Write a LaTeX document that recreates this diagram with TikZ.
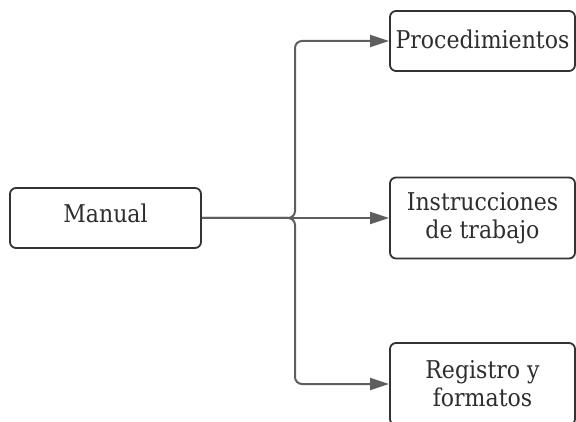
\documentclass[tikz,border=0pt]{standalone}
\usepackage{fontspec}
\setmainfont{DejaVu Serif}[FakeStretch=0.9]
\usetikzlibrary{arrows.meta}
\definecolor{linegray}{HTML}{5E5E5E}
\definecolor{boxline}{HTML}{333333}
\definecolor{txt}{HTML}{2E2E2E}
\begin{document}
\begin{tikzpicture}[x=1pt,y=-1pt,
  box/.style={draw=boxline, line width=1.8pt, rounded corners=6pt, fill=white,
    text=txt, font=\fontsize{24.5}{28}\selectfont, align=center, inner sep=0pt},
  link/.style={draw=linegray, line width=2pt, rounded corners=7pt,
    -{Triangle[length=19pt,width=12pt]}}]
\useasboundingbox (0,0) rectangle (576,422);

% boxes
\node[box, minimum width=191pt, minimum height=60pt, text depth=9pt] (manual) at (105.5,218) {Manual};
\node[box, minimum width=185pt, minimum height=60pt, text depth=4pt] (proc) at (482.5,41) {Procedimientos};
\node[box, minimum width=185pt, minimum height=81pt] (instr) at (482.5,218) {Instrucciones\\de trabajo};
\node[box, minimum width=185pt, minimum height=82pt] (reg) at (482.5,384) {Registro y\\formatos};

% branch point
\coordinate (bus) at (295,218);

% connectors
\draw[link] (manual.east) -- (bus) |- (proc.west);
\draw[link] (manual.east) -- (instr.west);
\draw[link] (manual.east) -- (bus) |- (reg.west);
\end{tikzpicture}
\end{document}
